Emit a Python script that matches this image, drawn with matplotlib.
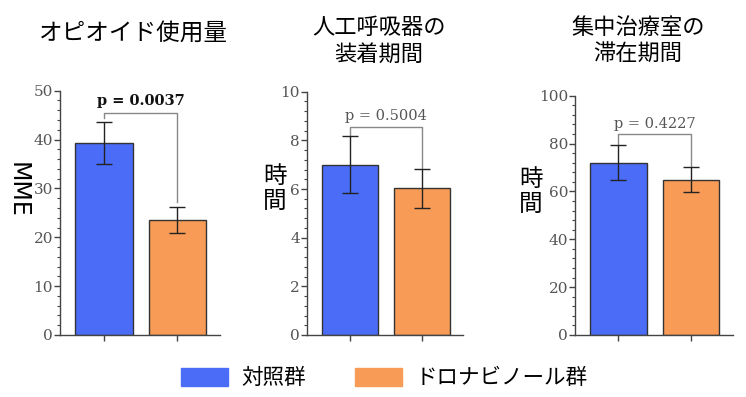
import matplotlib
matplotlib.use("Agg")
import matplotlib.pyplot as plt
from matplotlib.ticker import MultipleLocator

plt.rcParams['font.family'] = ['Noto Sans CJK JP', 'DejaVu Sans']

# データ
groups = ["対照群", "ドロナビノール群"]
titles = ["オピオイド使用量", "人工呼吸器の\n装着期間", "集中治療室の\n滞在期間"]
ylabels = ["MME", "時\n間", "時\n間"]

opioid_mean = [39.3, 23.5]
opioid_err = [4.3, 2.6]
vent_mean = [7.0, 6.03]
vent_err = [1.17, 0.79]
icu_mean = [72.0, 64.9]
icu_err = [7.4, 5.3]

p_values = ["p = 0.0037", "p = 0.5004", "p = 0.4227"]
y_max = [50, 10, 100]
major_step = [10, 2, 20]
minor_step = [2, 0.4, 4]

colors = ["#4A6CF7", "#F79B57"]

# 各パネルの位置 (ピクセル)
W, H = 746, 397
panels = [
    (60, 220, 90.7, 335),
    (306.7, 463.3, 91.7, 335),
    (575, 733, 95.7, 335),
]


def draw_panel(ax, means, errs, ymax, major, minor, ptext, bold, br_y, leg_gap, txt_y):
    x = [0, 1]
    ax.bar(x, means, width=0.78, color=colors, edgecolor="#333333", linewidth=1.0, zorder=2)
    ax.errorbar(x, means, yerr=errs, fmt="none", ecolor="#222222", elinewidth=1.0,
                capsize=6, capthick=1.0, zorder=3)
    ax.set_xlim(-0.6, 1.58)
    ax.set_ylim(0, ymax)
    ax.set_xticks(x)
    ax.set_xticklabels(["", ""])
    ax.yaxis.set_major_locator(MultipleLocator(major))
    ax.yaxis.set_minor_locator(MultipleLocator(minor))
    for s in ["top", "right"]:
        ax.spines[s].set_visible(False)
    for s in ["left", "bottom"]:
        ax.spines[s].set_color("#444444")
        ax.spines[s].set_linewidth(1.0)
    ax.tick_params(axis="y", which="major", length=4, width=1, color="#444444",
                   labelcolor="#555555", labelsize=11, pad=1)
    ax.tick_params(axis="y", which="minor", length=2, width=0.8, color="#444444")
    ax.tick_params(axis="x", length=4, width=1, color="#444444")
    for lab in ax.get_yticklabels():
        lab.set_family("DejaVu Serif")

    # 有意差ブラケット
    tops = [m + e for m, e in zip(means, errs)]
    ax.plot([0, 0, 1, 1], [tops[0] + leg_gap[0], br_y, br_y, tops[1] + leg_gap[1]],
            color="#888888", linewidth=1.0, zorder=1, clip_on=False)
    ax.text(0.5, txt_y, ptext, ha="center", va="center", fontsize=10.5,
            family="DejaVu Serif", color="#111111" if bold else "#555555",
            fontweight="bold" if bold else "normal")


fig = plt.figure(figsize=(W / 100, H / 100), dpi=100)
axes = []
for (l, r, t, b) in panels:
    axes.append(fig.add_axes([l / W, (H - b) / H, (r - l) / W, (b - t) / H]))

draw_panel(axes[0], opioid_mean, opioid_err, y_max[0], major_step[0], minor_step[0],
           p_values[0], True, 45.5, [0.9, 1.1], 47.8)
draw_panel(axes[1], vent_mean, vent_err, y_max[1], major_step[1], minor_step[1],
           p_values[1], False, 8.56, [0.0, 0.0], 9.0)
draw_panel(axes[2], icu_mean, icu_err, y_max[2], major_step[2], minor_step[2],
           p_values[2], False, 83.9, [0.0, 0.0], 88.3)

# タイトル
fig.text(133 / W, 1 - 33 / H, titles[0], ha="center", va="center", fontsize=17)
fig.text(379 / W, 1 - 41 / H, titles[1], ha="center", va="center", fontsize=16,
         linespacing=1.2)
fig.text(638 / W, 1 - 41 / H, titles[2], ha="center", va="center", fontsize=16,
         linespacing=1.2)

# 縦軸ラベル
fig.text(18 / W, 1 - 190 / H, ylabels[0], ha="center", va="center", fontsize=17,
         rotation=-90, family="DejaVu Sans")
fig.text(275 / W, 1 - 189 / H, ylabels[1], ha="center", va="center", fontsize=17,
         linespacing=1.08)
fig.text(531 / W, 1 - 192 / H, ylabels[2], ha="center", va="center", fontsize=17,
         linespacing=1.08)

# 凡例
handles = [plt.Rectangle((0, 0), 1, 1, color=c) for c in colors]
fig.legend(handles, groups, loc="center", bbox_to_anchor=(384 / W, 1 - 378 / H),
           ncol=2, frameon=False, fontsize=15.5, handlelength=2.2, handleheight=0.9,
           handletextpad=0.6, columnspacing=2.3)

fig.savefig("out.png", dpi=100)
